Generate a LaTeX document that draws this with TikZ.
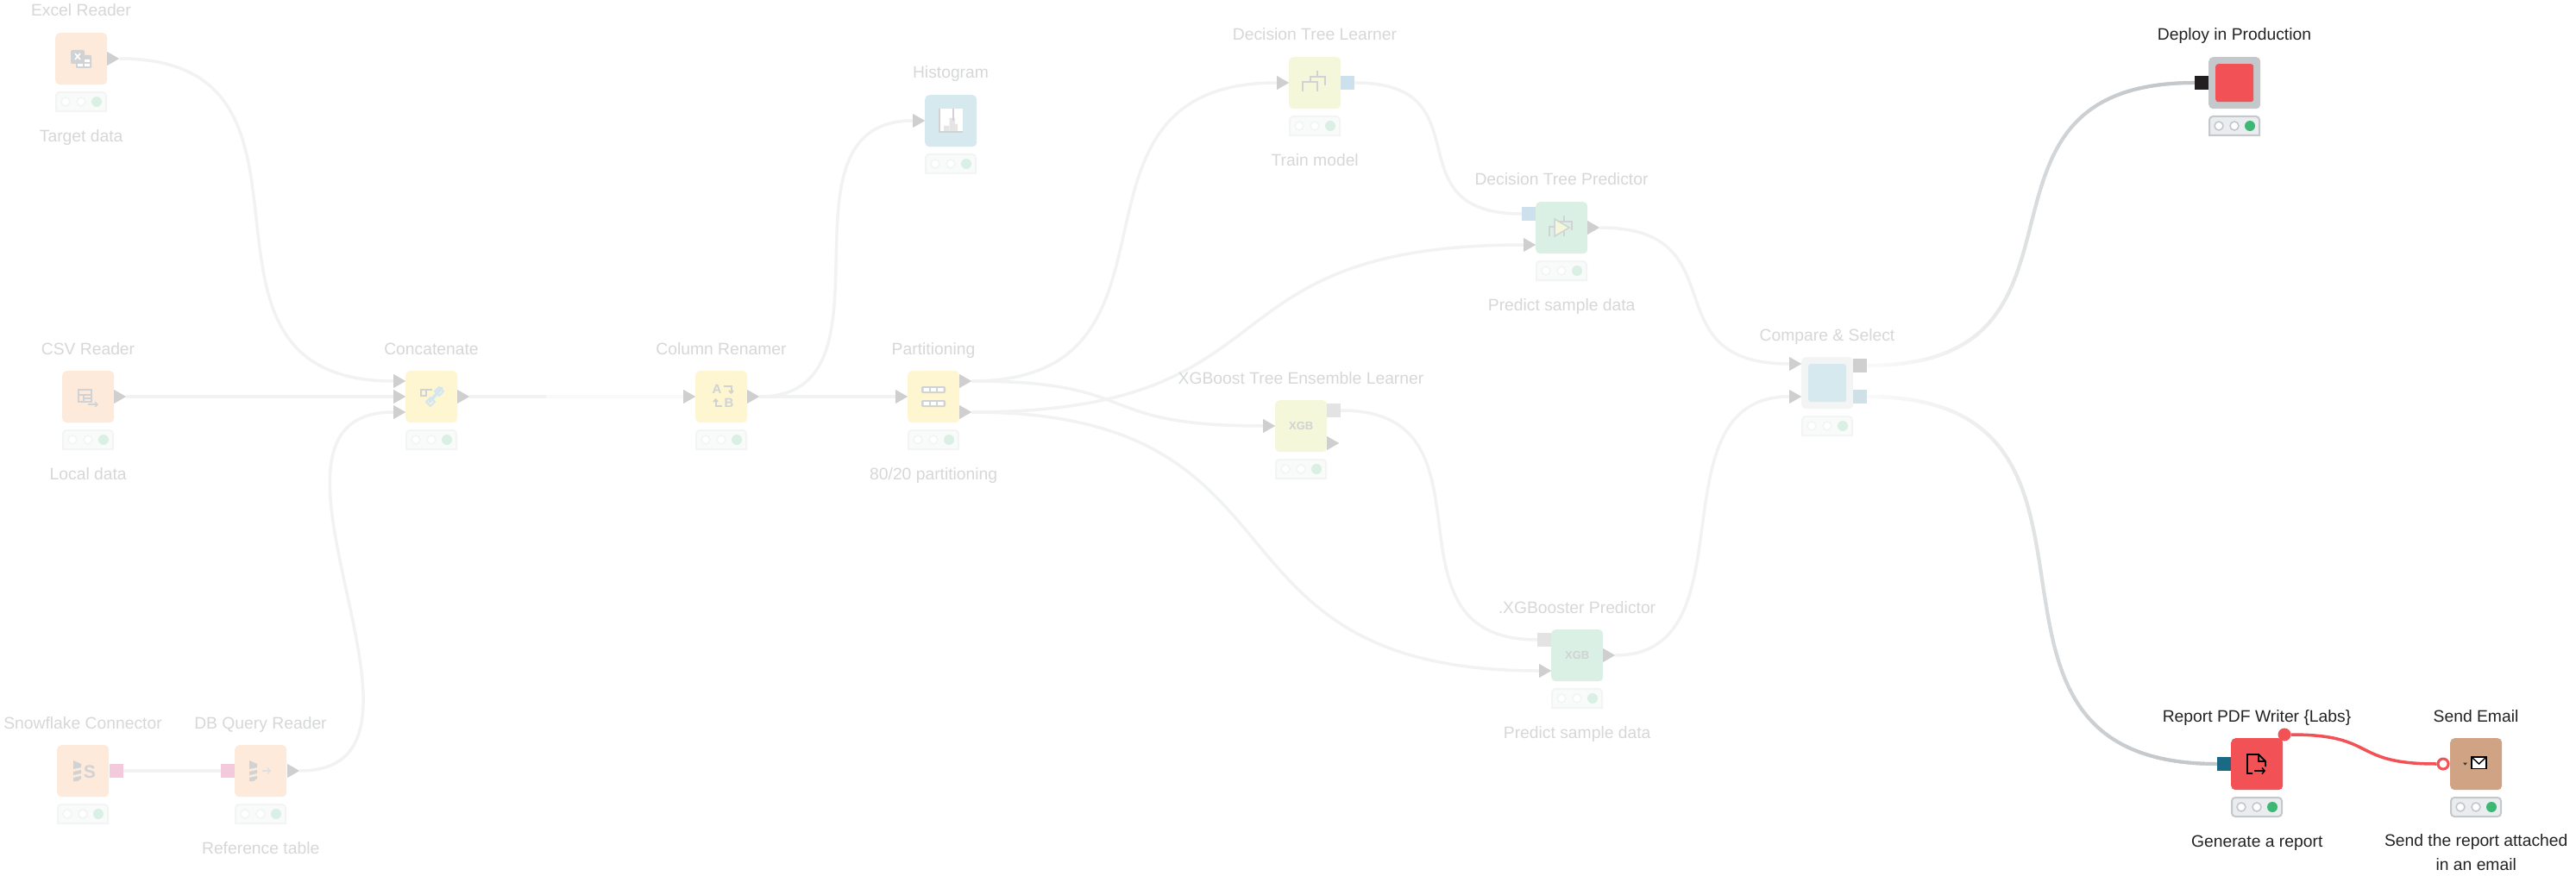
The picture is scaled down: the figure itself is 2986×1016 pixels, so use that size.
\documentclass[tikz,border=0pt]{standalone}
\usepackage{fontspec}
\setmainfont{Liberation Sans}
\usetikzlibrary{calc,decorations.markings,arrows.meta}
\pgfdeclarelayer{bg}
\pgfsetlayers{bg,main}
\definecolor{orangeF}{HTML}{FEEADA}
\definecolor{yellowF}{HTML}{FEF6D0}
\definecolor{blueF}{HTML}{D6E9EE}
\definecolor{greenF}{HTML}{DBF0E4}
\definecolor{limeF}{HTML}{F4F7DA}
\definecolor{portG}{HTML}{CFCFCF}
\definecolor{iconG}{HTML}{D0D2D4}
\definecolor{wireF}{HTML}{F1F3F3}
\definecolor{wireL}{HTML}{F8F9F9}
\definecolor{wireH}{HTML}{C4C8CB}
\definecolor{redN}{HTML}{F25255}
\definecolor{tanN}{HTML}{CFA384}
\definecolor{inkD}{HTML}{222222}
\definecolor{inkF}{HTML}{D6D7D8}
\definecolor{pinkP}{HTML}{F3CADC}
\definecolor{blueP}{HTML}{CDE0EE}
\definecolor{greyP}{HTML}{E3E3E3}
\definecolor{cmpP}{HTML}{CFE0E6}
\definecolor{tealP}{HTML}{1A6A85}
\definecolor{blackP}{HTML}{231F20}
\definecolor{chainP}{HTML}{D3E6F0}
\definecolor{fadeB}{HTML}{F3F4F4}
\definecolor{fadeF}{HTML}{F9FAFA}
\definecolor{hiF}{HTML}{E9EDEF}
\definecolor{hiG}{HTML}{3DB873}
\colorlet{labcol}{inkF}
\colorlet{stb}{fadeB}\colorlet{stf}{fadeF}\colorlet{str}{fadeB}\colorlet{stg}{greenF}
\tikzset{
  body/.style={rectangle,rounded corners=5pt,minimum width=60pt,minimum height=60pt,inner sep=0pt,anchor=north west},
  lab/.style={font=\fontsize{19.3pt}{28pt}\selectfont,text=labcol,anchor=base,inner sep=0pt},
  triport/.style={rectangle,minimum width=14pt,minimum height=16pt,inner sep=0pt,anchor=west,
    path picture={\fill[portG] (path picture bounding box.north west)--(path picture bounding box.east)--(path picture bounding box.south west)--cycle;}},
  sqport/.style={rectangle,minimum width=16pt,minimum height=16pt,inner sep=0pt,anchor=west},
  wirefaded/.style={line width=3.5pt,color=wireF},
  wirelight/.style={line width=3.5pt,color=wireL},
  wirered/.style={line width=3.5pt,color=redN},
  ic/.style={line width=2pt,color=iconG},
  iconlabel/.style={font=\bfseries\fontsize{13pt}{13pt}\selectfont,text=iconG,inner sep=0pt},
}
\newcommand{\statusbar}[3][0]{%
  \begin{scope}[shift={(#2,#3)}]
    \draw[draw=stb,fill=stf,line width=2pt,rounded corners=4pt] (1,80)--(1,69)--(59,69)--(59,80)[rounded corners=#1pt]--(59,91)--(1,91)--cycle;
    \draw[draw=str,fill=white,line width=1.6pt] (12,80) circle (5);
    \draw[draw=str,fill=white,line width=1.6pt] (30,80) circle (5);
    \fill[stg] (48,80) circle (6);
  \end{scope}}
\newcommand{\knode}[6][0]{%
  \node[body,fill=#5] (#2) at (#3,#4) {};
  \statusbar[#1]{#3}{#4}
  \node[lab] (#2-t) at ({#3+30},{#4-19}) {#6};}
\newcommand{\sublab}[2]{\node[lab] (#1-b) at ($(#1.north)+(0,126.5)$) {#2};}
\newcommand{\tport}[3]{\node[triport] (#1) at (#2,#3) {};}
\newcommand{\sport}[4]{\node[sqport,fill=#4] (#1) at (#2,#3) {};}
\newcommand{\wire}[4][.8]{%
  \begin{pgfonlayer}{bg}
  \draw[#4] let \p1=(#2),\p2=(#3),\n1={#1*(\x2-\x1)} in (\p1) .. controls ($(\p1)+(\n1,0)$) and ($(\p2)-(\n1,0)$) .. (\p2);
  \end{pgfonlayer}}
\newcommand{\gradwire}[3][.8]{%
  \begin{pgfonlayer}{bg}
  \path[decoration={markings,mark=between positions 0 and 1 step 3pt with {%
      \pgfmathsetmacro\pct{min(100,100*(\pgfkeysvalueof{/pgf/decoration/mark info/distance from start}/(0.9*\pgfdecoratedpathlength)))}%
      \draw[line width=4pt,color=wireH!\pct!fadeF] (-2.5pt,0)--(2.5pt,0);}},decorate]
    let \p1=(#2),\p2=(#3),\n1={#1*(\x2-\x1)} in (\p1) .. controls ($(\p1)+(\n1,0)$) and ($(\p2)-(\n1,0)$) .. (\p2);
  \end{pgfonlayer}}
\newcommand{\disks}{%
  \fill[iconG] (0,0)--(9,4)--(9,8)--(0,10)--cycle;
  \fill[iconG] (0,13)--(9,11)--(9,15)--(0,17)--cycle;
  \fill[iconG] (0,20)--(9,18)--(9,21) to[bend left=10] (5,24)--(0,24)--cycle;}
\newcommand{\treeicon}{%
  \draw[ic] (33,16)--(33,23);
  \draw[ic] (42,33)--(42,23)--(25,23)--(25,29);
  \draw[ic] (16,40)--(16,29)--(33,29)--(33,40);}
\begin{document}
\begin{tikzpicture}[x=1pt,y=-1pt]
\useasboundingbox (0,0) rectangle (2986,1016);
\begin{pgfonlayer}{bg}
\fill[white] (0,0) rectangle (2986,1016);
\end{pgfonlayer}
% ---- faded nodes
\knode{excel}{64}{38}{orangeF}{Excel Reader}\sublab{excel}{Target data}
\knode{csv}{72}{430}{orangeF}{CSV Reader}\sublab{csv}{Local data}
\knode{snow}{66}{864}{orangeF}{Snowflake Connector}
\knode{dbq}{272}{864}{orangeF}{DB Query Reader}\sublab{dbq}{Reference table}
\knode{concat}{470}{430}{yellowF}{Concatenate}
\knode{renamer}{806}{430}{yellowF}{Column Renamer}
\knode{part}{1052}{430}{yellowF}{Partitioning}\sublab{part}{80/20 partitioning}
\knode{hist}{1072}{110}{blueF}{Histogram}
\knode{dtl}{1494}{66}{limeF}{Decision Tree Learner}\sublab{dtl}{Train model}
\knode{dtp}{1780}{234}{greenF}{Decision Tree Predictor}\sublab{dtp}{Predict sample data}
\knode{xgl}{1478}{464}{limeF}{XGBoost Tree Ensemble Learner}
\knode{xgp}{1798}{730}{greenF}{.XGBooster Predictor}\sublab{xgp}{Predict sample data}
\knode{cmp}{2088}{414}{fadeB}{Compare \& Select}
\node[rectangle,rounded corners=3pt,fill=blueF,minimum width=44pt,minimum height=44pt,inner sep=0pt,anchor=north west] (cmpin) at (2096,422) {};
% ports
\tport{excelO}{124}{68}
\tport{csvO}{132}{460}
\sport{snowO}{127}{894}{pinkP}
\sport{dbqI}{256}{894}{pinkP}
\tport{dbqO}{333}{894}
\tport{conI1}{456}{442}\tport{conI2}{456}{460}\tport{conI3}{456}{478}
\tport{conO}{530}{460}
\tport{renI}{792}{460}\tport{renO}{866}{460}
\tport{parI}{1038}{460}\tport{parO1}{1112}{442}\tport{parO2}{1112}{478}
\tport{hisI}{1058}{140}
\tport{dtlI}{1480}{96}\sport{dtlO}{1554}{96}{blueP}
\sport{dtpI1}{1764}{248}{blueP}\tport{dtpI2}{1766}{284}\tport{dtpO}{1840}{264}
\tport{xglI}{1464}{494}\sport{xglO}{1538}{476}{greyP}\tport{xglO2}{1538}{514}
\sport{xgpI1}{1782}{742}{greyP}\tport{xgpI2}{1784}{778}\tport{xgpO}{1858}{760}
\tport{cmpI1}{2074}{422}\tport{cmpI2}{2074}{460}
\sport{cmpO1}{2148}{424}{portG}\sport{cmpO2}{2148}{460}{cmpP}
% faded wires
\wire[.87]{excelO.east}{conI1.west}{wirefaded}
\wire{csvO.east}{conI2.west}{wirefaded}
\wire{snowO.east}{dbqI.west}{wirefaded}
\wire[1.83]{dbqO.east}{conI3.west}{wirefaded}
\wire{conO.east}{renI.west}{wirelight}
\coordinate (conFade) at (633,460);
\wire{conO.east}{conFade}{wirefaded}
\wire[.96]{renO.east}{hisI.west}{wirefaded}
\wire{renO.east}{parI.west}{wirefaded}
\wire[.78]{parO1.east}{dtlI.west}{wirefaded}
\wire[.6]{parO1.east}{xglI.west}{wirefaded}
\wire[.6]{parO2.east}{dtpI2.west}{wirefaded}
\wire[.62]{parO2.east}{xgpI2.west}{wirefaded}
\wire[.8]{dtlO.east}{dtpI1.west}{wirefaded}
\wire[.75]{dtpO.east}{cmpI1.west}{wirefaded}
\wire[.85]{xglO.east}{xgpI1.west}{wirefaded}
\wire[.8]{xgpO.east}{cmpI2.west}{wirefaded}
% faded icons
\begin{scope}[shift={(64,38)}]
  \fill[iconG,rounded corners=1pt] (24,26) rectangle (42,41);
  \fill[white] (26,31) rectangle (32,34) (34,31) rectangle (40,34) (26,36) rectangle (32,39) (34,36) rectangle (40,39);
  \fill[iconG,rounded corners=2pt] (18,20) rectangle (34,36);
  \draw[white,line width=1.6pt] (23,24)--(29,31) (29,24)--(23,31);
\end{scope}
\begin{scope}[shift={(72,430)}]
  \draw[ic,line width=1.8pt] (19,22) rectangle (34,36) (19,28)--(34,28) (25,28)--(25,36) (25,32)--(34,32);
  \draw[ic,line width=1.4pt,-{Straight Barb[length=3pt,width=6pt]}] (30,39)--(42,39);
\end{scope}
\begin{scope}[shift={(470,430)}]
  \draw[ic,line width=1.8pt] (31,22)--(18,22)--(18,29)--(24,29)--(24,22);
  \draw[chainP,line width=3.5pt,line cap=round] (28,36)--(42,20);
  \draw[chainP,line width=2pt] (24,36)--(29,41)--(34,36)--(29,31)--cycle (34,24)--(39,29)--(44,24)--(39,19)--cycle;
\end{scope}
\begin{scope}[shift={(806,430)}]
  \node[iconlabel,font=\bfseries\fontsize{15pt}{15pt}\selectfont] (renA) at (25,21) {A};
  \node[iconlabel,font=\bfseries\fontsize{15pt}{15pt}\selectfont] (renB) at (39,37) {B};
  \draw[ic,-{Straight Barb[length=2.5pt,width=5pt]}] (32.5,18)--(41.5,18)--(41.5,27);
  \draw[ic,-{Straight Barb[length=2.5pt,width=5pt]}] (31,41)--(23.5,41)--(23.5,32);
\end{scope}
\begin{scope}[shift={(1052,430)}]
  \foreach \yy in {18,34}{
    \fill[iconG,rounded corners=2pt] (16,\yy) rectangle (44,\yy+8);
    \fill[white] (18.5,\yy+2) rectangle (25,\yy+6) (27,\yy+2) rectangle (33,\yy+6) (35,\yy+2) rectangle (41.5,\yy+6);}
\end{scope}
\begin{scope}[shift={(1072,110)}]
  \fill[white] (16,16) rectangle (44,43);
  \fill[black!10] (22,36) rectangle (28,43) (28.5,27) rectangle (35,43) (35,34) rectangle (38,43);
  \draw[ic] (17,16)--(17,43)--(44,43) (33,16)--(33,30);
\end{scope}
\begin{scope}[shift={(1494,66)}]\treeicon\end{scope}
\begin{scope}[shift={(1780,234)}]
  \treeicon
  \draw[iconG,fill=limeF,line width=1.5pt] (22,20)--(39,30)--(22,40)--cycle;
\end{scope}
\node[iconlabel] (xglX) at ($(xgl.north)+(0,30)$) {XGB};
\node[iconlabel] (xgpX) at ($(xgp.north)+(0,30)$) {XGB};
\begin{scope}[shift={(85,882)}]\disks\end{scope}
\node[iconlabel,font=\bfseries\fontsize{21pt}{21pt}\selectfont] (snowS) at (104,895) {S};
\begin{scope}[shift={(289,882)}]\disks\end{scope}
\draw[line width=1.4pt,color=black!12,-{Straight Barb[length=3pt,width=7pt]}] (304,894)--(314,894);
% ---- highlighted nodes
\colorlet{labcol}{inkD}
\colorlet{stb}{wireH}\colorlet{stf}{hiF}\colorlet{str}{wireH}\colorlet{stg}{hiG}
\knode{deploy}{2560}{66}{wireH}{Deploy in Production}
\node[rectangle,rounded corners=3pt,fill=redN,minimum width=44pt,minimum height=44pt,inner sep=0pt,anchor=north west] (deployin) at (2568,74) {};
\knode[4]{report}{2586}{856}{redN}{Report PDF Writer \{Labs\}}\sublab{report}{Generate a report}
\knode[4]{email}{2840}{856}{tanN}{Send Email}
\node[lab,anchor=north,align=center] (email-b) at ($(email.north)+(0,111.5)$) {Send the report attached\\in an email};
\sport{deployI}{2544}{96}{blackP}
\sport{reportI}{2570}{886}{tealP}
\node[circle,fill=redN,minimum size=15pt,inner sep=0pt] (reportV) at (2648,852) {};
\node[circle,fill=white,draw=redN,line width=3pt,minimum size=12pt,inner sep=0pt] (emailV) at (2832,886) {};
\gradwire[.78]{cmpO1.east}{deployI.west}
\gradwire[.84]{cmpO2.east}{reportI.west}
\wire[.6]{reportV.east}{emailV.west}{wirered}
% icons of highlighted nodes
\begin{scope}[shift={(2586,856)}]
  \draw[black,line width=1.8pt] (25,41)--(19,41)--(19,19)--(32,19)--(40,27)--(40,33);
  \draw[black,line width=1.4pt] (32,19)--(32,27)--(40,27);
  \draw[black,line width=1.5pt,-{Straight Barb[length=3pt,width=7pt]}] (27,38)--(40,38);
\end{scope}
\begin{scope}[shift={(2840,856)}]
  \draw[black,fill=white,line width=1.6pt] (25,22) rectangle (42,35.5);
  \draw[black,line width=1.4pt] (25,22)--(33.5,30)--(42,22);
  \fill[black!80] (15,28.5)--(20,28.5)--(17.5,31.5)--cycle;
\end{scope}
\end{tikzpicture}
\end{document}
